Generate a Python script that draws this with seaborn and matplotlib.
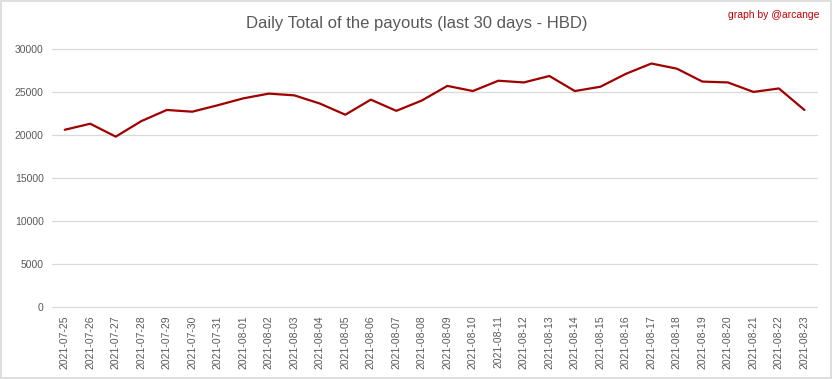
import matplotlib
matplotlib.use('Agg')
import matplotlib.pyplot as plt
import seaborn as sns
import pandas as pd
from matplotlib.patches import Rectangle

# Données
dates = ['2021-07-25', '2021-07-26', '2021-07-27', '2021-07-28', '2021-07-29',
         '2021-07-30', '2021-07-31', '2021-08-01', '2021-08-02', '2021-08-03',
         '2021-08-04', '2021-08-05', '2021-08-06', '2021-08-07', '2021-08-08',
         '2021-08-09', '2021-08-10', '2021-08-11', '2021-08-12', '2021-08-13',
         '2021-08-14', '2021-08-15', '2021-08-16', '2021-08-17', '2021-08-18',
         '2021-08-19', '2021-08-20', '2021-08-21', '2021-08-22', '2021-08-23']
payouts = [20600, 21300, 19800, 21600, 22900, 22700, 23450, 24250, 24800, 24600,
           23650, 22350, 24100, 22800, 24000, 25700, 25100, 26300, 26100, 26850,
           25100, 25600, 27100, 28300, 27700, 26200, 26100, 25000, 25400, 22900]
y_ticks = [0, 5000, 10000, 15000, 20000, 25000, 30000]

df = pd.DataFrame({'date': dates, 'payout': payouts})

sns.set_theme(style="white")
plt.rcParams['font.family'] = ['Liberation Sans', 'DejaVu Sans']

fig = plt.figure(figsize=(8.33, 3.79), dpi=100)
ax = fig.add_axes([0.0624, 0.19, 0.9186, 0.681])

sns.lineplot(data=df, x='date', y='payout', color='#A00000', linewidth=1.6, ax=ax)

ax.set_xlim(-0.5, len(dates) - 0.5)
ax.set_ylim(0, 30000)
ax.set_yticks(y_ticks)
ax.set_yticklabels([str(v) for v in y_ticks], fontsize=7.5, color='#595959')
ax.set_xticks(range(len(dates)))
ax.set_xticklabels(dates, rotation=90, fontsize=7.5, color='#595959')
ax.tick_params(axis='both', length=0, pad=6)
ax.set_xlabel('')
ax.set_ylabel('')
ax.grid(axis='y', color='#D9D9D9', linewidth=0.9)
for gl in ax.get_ygridlines():
    gl.set_clip_on(False)
ax.set_axisbelow(True)
for s in ax.spines.values():
    s.set_visible(False)

fig.text(0.5, 0.938, 'Daily Total of the payouts (last 30 days - HBD)',
         ha='center', va='center', fontsize=12, color='#595959')
fig.text(0.984, 0.96, 'graph by @arcange', ha='right', va='center',
         fontsize=7.5, color='#C00000')

fig.patches.append(Rectangle((0.001, 0.002), 0.997, 0.995, transform=fig.transFigure,
                             fill=False, edgecolor='#D9D9D9', linewidth=1.2))

fig.savefig('out.png', dpi=100)
